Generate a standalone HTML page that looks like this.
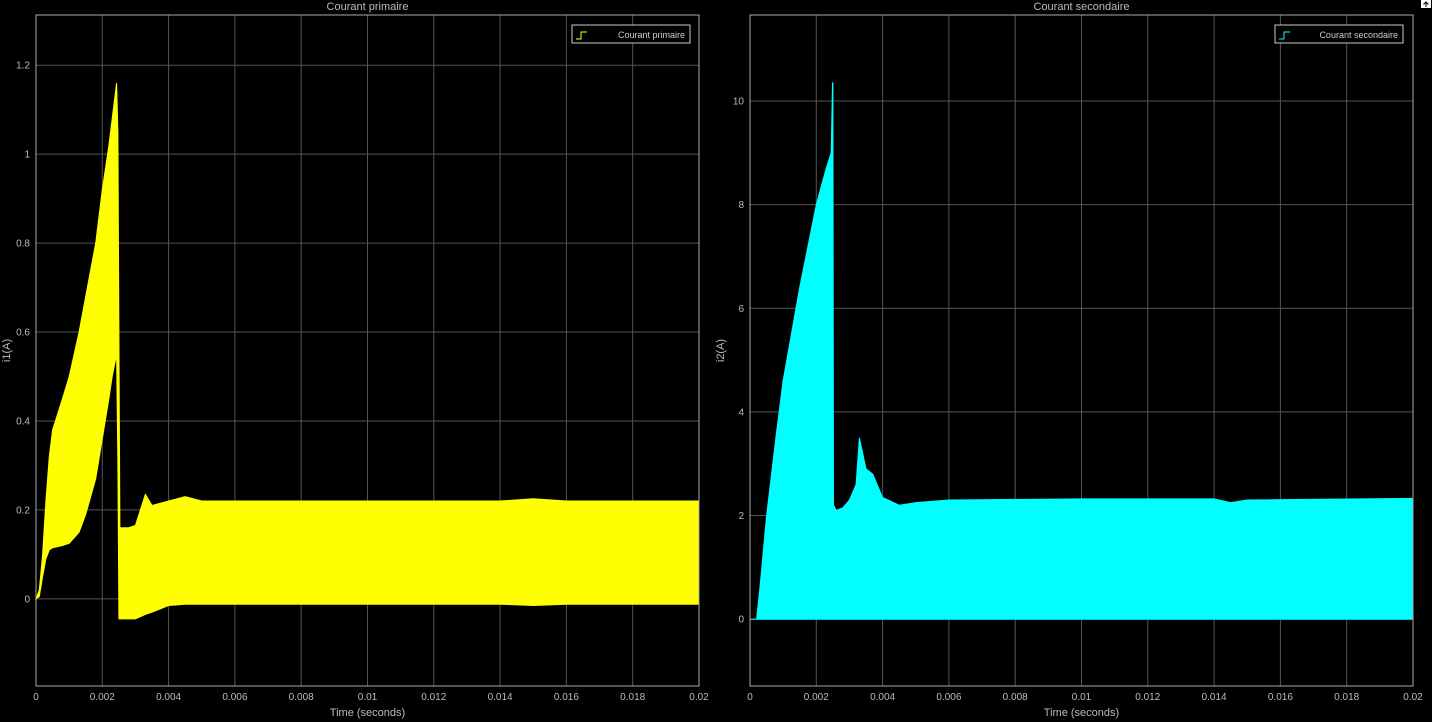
<!DOCTYPE html>
<html><head><meta charset="utf-8"><style>
html,body{margin:0;padding:0;background:#000;width:1432px;height:722px;overflow:hidden}
svg{display:block;font-family:"Liberation Sans",sans-serif}
</style></head><body>
<svg id="c" width="1432" height="722"></svg>
<script>
const NS="http://www.w3.org/2000/svg";
// Primary current (i1) envelope
const t1=[0,0.0001,0.0002,0.0003,0.0004,0.0005,0.0008,0.001,0.0013,0.0015,0.0018,0.002,0.0022,0.0023,0.00243,0.00247,0.0025,0.00253,0.0028,0.003,0.0033,0.0035,0.004,0.0045,0.005,0.006,0.008,0.01,0.012,0.014,0.015,0.016,0.018,0.02];
const up1=[0,0.02,0.1,0.22,0.32,0.38,0.45,0.5,0.6,0.68,0.8,0.92,1.02,1.08,1.16,1.05,0.6,0.16,0.16,0.165,0.235,0.21,0.22,0.23,0.22,0.22,0.22,0.22,0.22,0.22,0.225,0.22,0.22,0.22];
const lo1=[0,0.005,0.05,0.09,0.11,0.115,0.12,0.125,0.15,0.19,0.27,0.36,0.45,0.5,0.55,0.3,-0.045,-0.045,-0.045,-0.045,-0.035,-0.03,-0.015,-0.012,-0.012,-0.012,-0.012,-0.012,-0.012,-0.012,-0.015,-0.012,-0.012,-0.012];
// Secondary current (i2) envelope
const t2=[0,0.0002,0.0003,0.0005,0.0008,0.001,0.0015,0.002,0.0023,0.00245,0.00249,0.0025,0.00252,0.0026,0.0028,0.003,0.0032,0.0033,0.0034,0.0035,0.0037,0.004,0.0045,0.005,0.006,0.01,0.014,0.0145,0.015,0.02];
const up2=[0,0,0.6,2,3.6,4.6,6.4,8.0,8.7,9.0,10.35,10.35,2.2,2.1,2.15,2.3,2.6,3.5,3.2,2.9,2.8,2.35,2.2,2.25,2.3,2.32,2.32,2.25,2.3,2.33];
const lo2=t2.map(()=>0);
const xTicks=[0,0.002,0.004,0.006,0.008,0.01,0.012,0.014,0.016,0.018,0.02];
const xTickLabels=["0","0.002","0.004","0.006","0.008","0.01","0.012","0.014","0.016","0.018","0.02"];
const yTicks1=[0,0.2,0.4,0.6,0.8,1,1.2];
const yTickLabels1=["0","0.2","0.4","0.6","0.8","1","1.2"];
const yTicks2=[0,2,4,6,8,10];
const yTickLabels2=["0","2","4","6","8","10"];

const svg=document.getElementById('c');
function el(tag,attrs,parent){const e=document.createElementNS(NS,tag);for(const k in attrs)e.setAttribute(k,attrs[k]);(parent||svg).appendChild(e);return e;}

function panel(o){
  const g=el('g',{});
  
  
  const X=v=>o.x0+(v-0)/(0.02)*(o.x1-o.x0);
  const Y=v=>o.y1-(v-o.ymin)/(o.ymax-o.ymin)*(o.y1-o.y0);
  xTicks.forEach((v,i)=>{
    const l=el('line',{x1:X(v),x2:X(v),y1:o.y0,y2:o.y1,stroke:'#555','stroke-width':1},g);
    
    const t=el('text',{x:X(v),y:o.y1+14,fill:'#bbb','font-size':10,'text-anchor':'middle'},g);t.textContent=xTickLabels[i];
    
  });
  o.yt.forEach((v,i)=>{
    const l=el('line',{x1:o.x0,x2:o.x1,y1:Y(v),y2:Y(v),stroke:'#555','stroke-width':1},g);
    
    const t=el('text',{x:o.x0-6,y:Y(v)+3.5,fill:'#bbb','font-size':10,'text-anchor':'end'},g);t.textContent=o.ytl[i];
    
  });
  let d='M'+o.t.map((v,i)=>X(v).toFixed(1)+','+Y(o.up[i]).toFixed(1)).join('L');
  for(let i=o.t.length-1;i>=0;i--)d+='L'+X(o.t[i]).toFixed(1)+','+Y(o.lo[i]).toFixed(1);
  d+='Z';
  const p=el('path',{d:d,fill:o.color,stroke:o.color,'stroke-width':1},g);
  
  const b=el('rect',{x:o.x0,y:o.y0,width:o.x1-o.x0,height:o.y1-o.y0,fill:'none',stroke:'#aaa','stroke-width':1},g);
  
  const ti=el('text',{x:(o.x0+o.x1)/2,y:10,fill:'#bbb','font-size':11,'text-anchor':'middle'},g);ti.textContent=o.title;
  
  const xl=el('text',{x:(o.x0+o.x1)/2,y:716,fill:'#bbb','font-size':11,'text-anchor':'middle'},g);xl.textContent='Time (seconds)';
  
  const yx=o.x0-26,yy=(o.y0+o.y1)/2;
  const yl=el('text',{x:yx,y:yy,fill:'#bbb','font-size':11,'text-anchor':'middle',transform:`rotate(-90 ${yx} ${yy})`},g);yl.textContent=o.ylabel;
  
  const lg=el('g',{},g);
  
  el('rect',{x:o.lx,y:25,width:o.lw,height:18,fill:'#000',stroke:'#ccc','stroke-width':1},lg);
  el('path',{d:`M${o.lx+4},39 h5 v-7 h6`,fill:'none',stroke:o.color,'stroke-width':1},lg);
  const lt=el('text',{x:o.lx+o.lw-5,y:38,fill:'#ccc','font-size':9,'text-anchor':'end'},lg);lt.textContent=o.title;
  
}
panel({name:'primary-current-chart',seriesName:'primary-current-series',x0:36,x1:699,y0:15,y1:686,ymin:-0.196,ymax:1.313,yt:yTicks1,ytl:yTickLabels1,t:t1,up:up1,lo:lo1,color:'#ffff00',title:'Courant primaire',ylabel:'i1(A)',lx:572,lw:118});
panel({name:'secondary-current-chart',seriesName:'secondary-current-series',x0:750,x1:1413,y0:15,y1:686,ymin:-1.29,ymax:11.66,yt:yTicks2,ytl:yTickLabels2,t:t2,up:up2,lo:lo2,color:'#00ffff',title:'Courant secondaire',ylabel:'i2(A)',lx:1275,lw:128});
const ic=el('g',{});

el('rect',{x:1421,y:0,width:10,height:8,fill:'#fff'},ic);
el('path',{d:'M1426,7 v-5 M1423.5,4.5 l2.5,-2.5 l2.5,2.5',stroke:'#000',fill:'none','stroke-width':1},ic);
</script>
</body></html>
